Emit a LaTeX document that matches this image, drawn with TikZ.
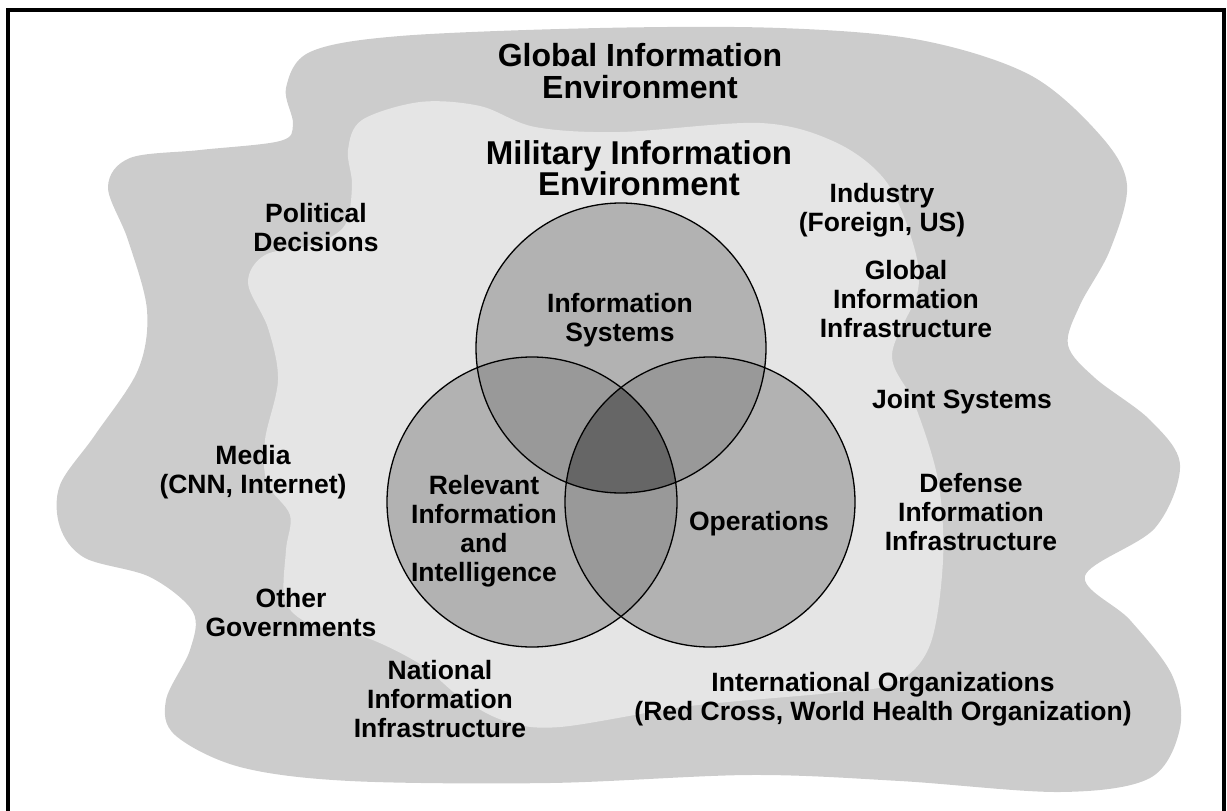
\documentclass[tikz,border=0pt]{standalone}
\usepackage{fontspec}
\setmainfont{Liberation Sans}
\usepackage{tikz}

\definecolor{globalgray}{gray}{0.80}
\definecolor{militarygray}{gray}{0.90}
\definecolor{onegray}{gray}{0.70}
\definecolor{twogray}{gray}{0.60}
\definecolor{threegray}{gray}{0.40}

\begin{document}
\begin{tikzpicture}[x=1pt, y=-1pt,
    every node/.style={align=center, anchor=north, inner sep=0pt, font=\bfseries\fontsize{26.5}{29}\selectfont},
    heading/.style={font=\bfseries\fontsize{32}{32}\selectfont},
    venn/.style={draw=black, line width=1.3pt}]

        \useasboundingbox (0,0) rectangle (1227,811);

        \def\r{145} % Radius of the three circles

        % Global information environment
        \fill[globalgray] plot[smooth cycle, tension=0.55] coordinates {
          (400,36) (600,28) (780,28) (920,40) (1030,75) (1100,135) (1127,185)
          (1110,250) (1080,305) (1068,345) (1095,378) (1150,420) (1180,465)
          (1155,528) (1085,576) (1130,620) (1172,675) (1180,728) (1150,778)
          (1060,792) (900,781) (750,775) (550,783) (350,781) (240,767)
          (175,735) (166,700) (190,650) (193,612) (150,577) (85,558) (60,527)
          (60,485) (95,435) (138,370) (147,310) (128,240) (108,187) (130,158)
          (200,150) (280,141) (293,124) (286,88) (310,52)};

        % Military information environment
        \fill[militarygray] plot[smooth cycle, tension=0.55] coordinates {
          (362,120) (420,102) (480,106) (535,127) (620,132) (760,123)
          (835,142) (885,180) (912,240) (918,290) (892,355) (915,405)
          (938,480) (943,560) (930,645) (895,683) (830,693) (690,706)
          (560,727) (505,721) (460,697) (420,664) (365,637) (310,624)
          (285,600) (286,550) (290,515) (267,483) (265,440) (278,380)
          (268,328) (248,283) (265,255) (315,244) (345,225) (352,185) (348,150)};

        \coordinate (cIS) at (621,348);
        \coordinate (cRI) at (532,502);
        \coordinate (cOP) at (710,502);

        \foreach \c in {cIS,cRI,cOP} {
          \fill[onegray] (\c) circle[radius=\r];
        }

        \begin{scope}
          \clip (cIS) circle[radius=\r];
          \fill[twogray] (cRI) circle[radius=\r];
          \fill[twogray] (cOP) circle[radius=\r];
        \end{scope}
        \begin{scope}
          \clip (cRI) circle[radius=\r];
          \fill[twogray] (cOP) circle[radius=\r];
        \end{scope}
        \begin{scope}
          \clip (cIS) circle[radius=\r];
          \clip (cRI) circle[radius=\r];
          \fill[threegray] (cOP) circle[radius=\r];
        \end{scope}

        \foreach \c in {cIS,cRI,cOP} {
          \draw[venn] (\c) circle[radius=\r];
        }

        \node[heading] (global) at (640,43) {Global Information\\Environment};
        \node[heading, font=\bfseries\fontsize{33}{30}\selectfont] (military) at (639,140) {Military Information\\Environment};

        \node (infosys) at (620,293) {Information\\Systems};
        \node (relevant) at (484,475) {Relevant\\Information\\and\\Intelligence};
        \node (operations) at (759,511) {Operations};

        \node (political) at (316,203) {Political\\Decisions};
        \node (media) at (253,445) {Media\\(CNN, Internet)};
        \node (othergov) at (291,588) {Other\\Governments};
        \node (national) at (440,660) {National\\Information\\Infrastructure};

        \node (industry) at (882,183) {Industry\\(Foreign, US)};
        \node (gii) at (906,260) {Global\\Information\\Infrastructure};
        \node (joint) at (962,389) {Joint Systems};
        \node (defense) at (971,473) {Defense\\Information\\Infrastructure};
        \node (intorg) at (883,672) {International Organizations\\(Red Cross, World Health Organization)};

        % Frame, open at the bottom
        \draw[line width=4pt] (8,811) -- (8,10) -- (1224,10) -- (1224,811);

      \end{tikzpicture}
\end{document}
